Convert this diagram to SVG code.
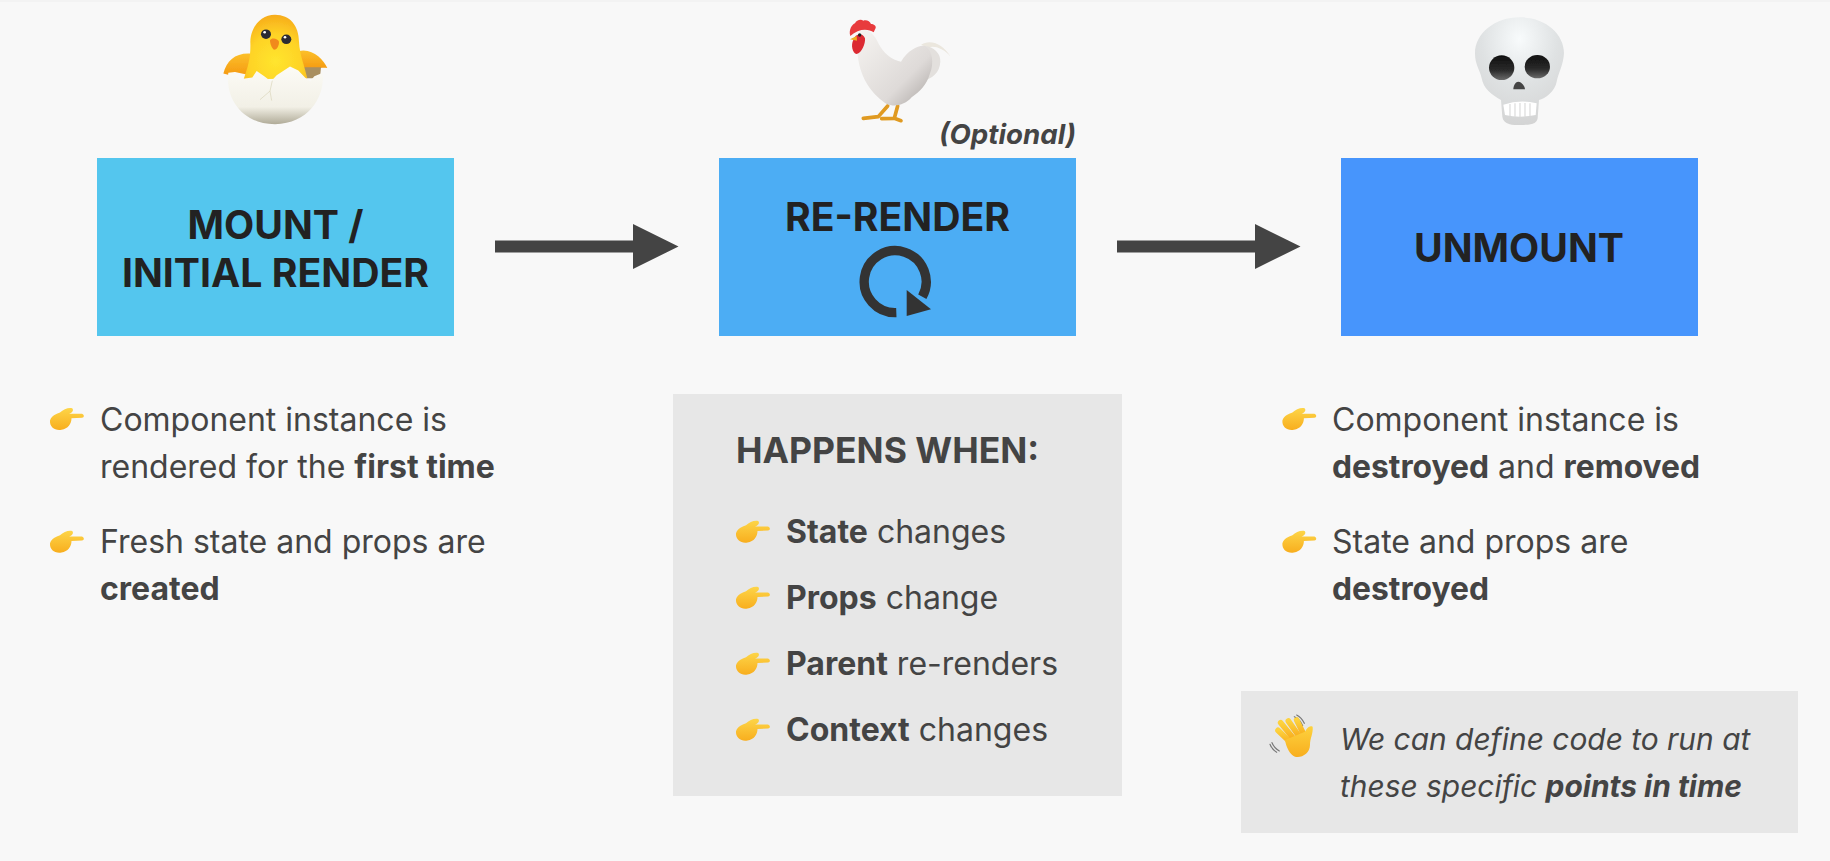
<svg xmlns="http://www.w3.org/2000/svg" width="1830" height="861" viewBox="0 0 1830 861">
<style>
text{font-family:"Inter","Liberation Sans",sans-serif;fill:#444;font-size:32px}
.h{fill:#222;font-weight:700;font-size:39.200px;text-anchor:middle}
.b{font-weight:700}
.i{font-style:italic;font-size:29.900px}
.panel{fill:#e7e7e7}
.arrow{fill:#444}
.emoji{filter:url(#soft)}
</style>
<defs>
<filter id="soft" x="-5%" y="-5%" width="110%" height="110%"><feGaussianBlur stdDeviation="1"/></filter>
<linearGradient id="hand" x1="0" y1="0" x2="0" y2="1"><stop offset="0" stop-color="#fdd548"/><stop offset="1" stop-color="#f8ae1e"/></linearGradient>
<linearGradient id="wave" x1="0" y1="0" x2="0" y2="1"><stop offset="0" stop-color="#fdd23e"/><stop offset="1" stop-color="#f8ae1e"/></linearGradient>
<radialGradient id="chick" cx=".5" cy=".72" r=".75"><stop offset="0" stop-color="#ffe52e"/><stop offset=".55" stop-color="#fed326"/><stop offset="1" stop-color="#f6a81a"/></radialGradient>
<linearGradient id="wing" x1="0" y1="0" x2="0" y2="1"><stop offset="0" stop-color="#fcc02a"/><stop offset="1" stop-color="#f59a12"/></linearGradient>
<linearGradient id="egg" x1="0" y1="0" x2="0" y2="1"><stop offset="0" stop-color="#fcfbf6"/><stop offset=".7" stop-color="#f2f0e6"/><stop offset="1" stop-color="#b0ab98"/></linearGradient>
<linearGradient id="hen" x1="0" y1="0" x2="1" y2="1"><stop offset="0" stop-color="#f6f4f1"/><stop offset=".65" stop-color="#dedad8"/><stop offset="1" stop-color="#a9a4a1"/></linearGradient>
<radialGradient id="skull" cx=".5" cy=".2" r=".85"><stop offset="0" stop-color="#f8fbfc"/><stop offset=".5" stop-color="#dfe2e3"/><stop offset="1" stop-color="#d2d2d2"/></radialGradient>
<linearGradient id="socket" x1="0" y1="0" x2="0" y2="1"><stop offset="0" stop-color="#0f0f0f"/><stop offset=".6" stop-color="#2a2a2a"/><stop offset="1" stop-color="#6a6a6a"/></linearGradient>
<g id="point">
<path fill="url(#hand)" d="M50,420.500C51.500,415.500 57,413.500 60,412.500C63.500,409.500 69,407 72.500,408.500C74,411 71.500,413 69,413.800L82,413.800C84.500,414.800 84.500,417.500 82,417.800L71.500,418.300C71.500,423.500 68,429 61.500,429.800C55,431 49.500,427 50,420.500Z"/>
</g>
</defs>
<rect width="1830" height="861" fill="#f8f8f8"/>
<rect width="1830" height="2" fill="#f3f3f3"/>

<g id="connectors">
<path class="arrow" d="M495,240.500H633V224L678.500,246.500L633,269V252.500H495Z"/>
<path class="arrow" d="M1117,240.500H1255V224L1300.500,246.500L1255,269V252.500H1117Z"/>
</g>

<g id="node-mount">
<g transform="translate(215,10) scale(.3333,.318)">
<g class="emoji">
<path fill="url(#wing)" d="M25,200C35,160 60,135 105,137L105,205L60,195L45,205Z"/>
<path fill="url(#wing)" d="M250,130C290,118 325,155 337,182C320,180 300,185 265,185Z"/>
<path fill="#a98f60" d="M262,180H318L315,215H262Z"/>
<path fill="url(#chick)" d="M180,15C225,15 252,50 252,100C254,140 267,170 277,215L86,218C98,180 108,150 106,100C108,50 140,15 180,15Z"/>
<path fill="#f18a1c" d="M165,95C170,85 190,90 192,100C192,115 185,125 177,125C170,120 165,105 165,95Z"/>
<path fill="url(#egg)" d="M40,197L60,195L73,218L112,212L125,192L150,210L168,225L185,205L225,178L250,190L270,212L285,225L298,208L322,198C332,260 290,358 180,359C75,358 30,270 40,197Z"/>
<path fill="none" stroke="#d9d4b8" stroke-width="2" d="M172,222L165,255L135,282M165,255L170,285"/>
</g>
<circle cx="153" cy="76" r="15" fill="#2b2b33"/><circle cx="149" cy="70" r="4" fill="#fff"/>
<circle cx="214" cy="92" r="15" fill="#2b2b33"/><circle cx="210" cy="86" r="4" fill="#fff"/>
</g>
<rect x="97" y="158" width="357" height="178" fill="#54c6ee"/>
<text class="h" x="275.500" y="238.500">MOUNT /</text>
<text class="h" x="275.500" y="286.700">INITIAL RENDER</text>
</g>

<g id="node-rerender">
<g transform="translate(845,10) scale(.3333)">
<g class="emoji">
<path fill="none" stroke="#e09a20" stroke-width="11" stroke-linecap="round" stroke-linejoin="round" d="M128,288L100,320L55,325M158,288L148,325L110,326M148,325L168,332"/>
<path fill="#ebe7de" d="M228,105C250,88 290,95 317,140C295,115 270,106 250,112Z"/>
<path fill="#e3e0dd" d="M240,108C265,110 288,130 286,155C284,190 262,205 230,215Z"/>
<path fill="url(#hen)" d="M45,60C70,55 90,75 100,100C115,130 140,150 168,155C190,120 220,105 240,108C262,120 268,160 255,190C245,225 225,245 200,262C180,285 150,292 125,282C90,258 52,220 40,150C36,120 35,90 45,60Z"/>
<path fill="#e83a3e" d="M16,78C10,60 22,42 30,40C34,30 48,26 55,32C64,28 75,34 78,42C86,42 94,48 92,54L86,67C70,55 40,55 16,78Z"/>
<path fill="#dc2a32" d="M25,90C30,72 52,65 60,85C62,100 50,130 35,132C22,130 17,105 25,90Z"/>
<path fill="#eeaa22" d="M15,88L35,78L36,92Z"/>
</g>
<circle cx="44" cy="75" r="5" fill="#222"/>
</g>
<rect x="719" y="158" width="357" height="178" fill="#4cadf4"/>
<text class="h" x="897.500" y="231">RE-RENDER</text>
<g transform="translate(845,240) scale(.3333)">
<path fill="none" stroke="#333" stroke-width="28" d="M154,218A93,93 0 1 1 232,170"/>
<path fill="#333" d="M185,150L258,208L185,228Z"/>
</g>
<text class="b" x="1076" y="143.500" text-anchor="end" style="font-size:27.700px;font-style:italic">(Optional)</text>
</g>

<g id="node-unmount">
<g transform="translate(1465,10) scale(.3333)">
<g class="emoji">
<path fill="url(#skull)" d="M165,22C240,22 297,70 297,130C295,165 280,190 275,215C270,245 240,265 222,270L218,325C215,345 190,345 165,345C145,345 115,345 112,320L108,270C80,255 55,235 50,205C45,180 30,165 30,130C30,70 90,22 165,22Z"/>
<ellipse cx="110" cy="173" rx="38" ry="37" fill="url(#socket)"/>
<ellipse cx="217" cy="170" rx="38" ry="35" fill="url(#socket)"/>
<path fill="#444" d="M160,215C170,215 180,230 180,238L145,238C145,230 150,215 160,215Z"/>
<path fill="#fff" d="M115,284Q165,268 215,280L212,315Q165,325 120,315Z"/>
<path fill="none" stroke="#d4d4d4" stroke-width="3" d="M135,282V318M150,280V320M165,279V321M180,279V320M195,280V318"/>
</g>
</g>
<rect x="1341" y="158" width="357" height="178" fill="#4795fc"/>
<text class="h" x="1519" y="262">UNMOUNT</text>
</g>

<g id="mount-notes">
<use href="#point"/>
<text x="100" y="431">Component instance is</text>
<text x="100" y="477.500">rendered for the <tspan class="b">first time</tspan></text>
<use href="#point" y="122.700"/>
<text x="100" y="553">Fresh state and props are</text>
<text class="b" x="100" y="599.500">created</text>
</g>

<g id="rerender-notes">
<rect class="panel" x="673" y="394" width="449" height="402"/>
<text class="b" x="736" y="463.300" style="font-size:35.500px">HAPPENS WHEN:</text>
<use href="#point" x="686" y="112.700"/>
<text x="786" y="543">
<tspan class="b">State</tspan> changes</text>
<use href="#point" x="686" y="178.700"/>
<text x="786" y="609"><tspan class="b">Props</tspan> change</text>
<use href="#point" x="686" y="244.700"/>
<text x="786" y="675"><tspan class="b">Parent</tspan> re-renders</text>
<use href="#point" x="686" y="310.700"/>
<text x="786" y="741"><tspan class="b">Context</tspan> changes</text>
</g>

<g id="unmount-notes">
<use href="#point" x="1232.400"/>
<text x="1332" y="431">Component instance is</text>
<text x="1332" y="477.500"><tspan class="b" style="font-size:31.800px">destroyed</tspan> and <tspan class="b" style="font-size:31.800px">removed</tspan></text>
<use href="#point" x="1232.400" y="122.700"/>
<text x="1332" y="553">State and props are</text>
<text class="b" x="1332" y="599.500" style="font-size:31.800px">destroyed</text>
</g>

<g id="note-callout">
<rect class="panel" x="1241" y="691" width="557" height="142"/>
<g transform="translate(1260,705) scale(.3333)">
<g fill="none" stroke-linecap="round"><path stroke="#777" stroke-width="3.500" d="M103,35Q120,42 128,62M110,30Q125,38 133,55M30,118Q36,134 50,142M36,113Q42,128 58,138"/>
<g stroke="url(#wave)" stroke-width="17"><path d="M54,76L95,115"/><path d="M62,53L100,100"/><path d="M85,48L118,95"/><path d="M110,45L132,90"/></g></g>
<path fill="url(#wave)" d="M75,105L135,80C140,70 148,60 158,65C160,85 150,100 150,120C150,145 125,160 105,155C90,150 78,125 75,105Z"/>
</g>
<text class="i" x="1340" y="750">We can define code to run at</text>
<text class="i" x="1340" y="796.700">these specific <tspan class="b">points in time</tspan></text>
</g>
</svg>
